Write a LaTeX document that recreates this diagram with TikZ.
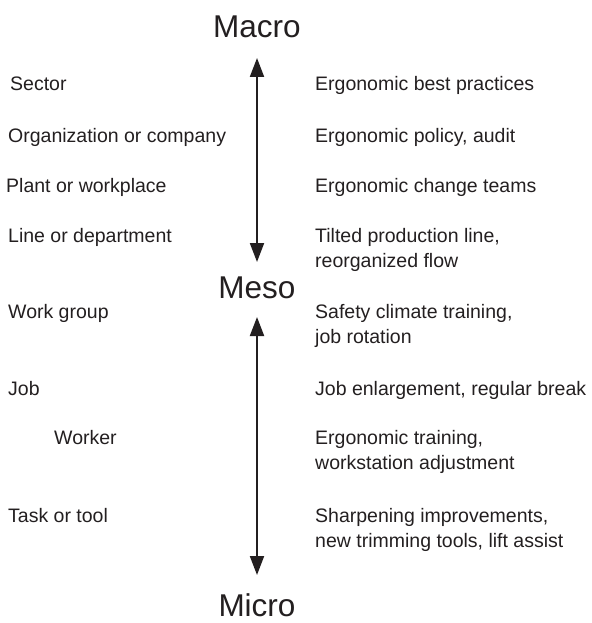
\documentclass[tikz,border=0pt]{standalone}
\usepackage{fontspec}
\setmainfont{Liberation Sans}
\usetikzlibrary{arrows.meta}
\definecolor{ink}{HTML}{231F20}
\begin{document}
\begin{tikzpicture}[x=1pt,y=-1pt,
  lbl/.style={anchor=base west,inner sep=0pt,text=ink,font=\fontsize{19.5}{24}\selectfont},
  big/.style={anchor=base,inner sep=0pt,text=ink,font=\fontsize{31.5}{38}\selectfont},
  scalearrow/.style={draw=ink,line width=2pt,{Triangle[length=19pt,width=14pt]}-{Triangle[length=19pt,width=14pt]}}]
\useasboundingbox (0,0) rectangle (591,623);
% scale labels
\node[big] (macro) at (257,38) {Macro};
\node[big] (meso) at (257,298) {Meso};
\node[big] (micro) at (257,616) {Micro};
% arrows
\coordinate (a1) at (257,58);
\coordinate (a2) at (257,262);
\coordinate (b1) at (257,317);
\coordinate (b2) at (257,575);
\draw[scalearrow] (a1) -- (a2);
\draw[scalearrow] (b1) -- (b2);
% left column
\node[lbl] (l1) at (10,91) {Sector};
\node[lbl] (l2) at (8,142) {Organization or company};
\node[lbl] (l3) at (6,192) {Plant or workplace};
\node[lbl] (l4) at (8,242) {Line or department};
\node[lbl] (l5) at (8,318) {Work group};
\node[lbl] (l6) at (8,395) {Job};
\node[lbl] (l7) at (54,444) {Worker};
\node[lbl] (l8) at (8,522) {Task or tool};
% right column
\node[lbl] (r1) at (315,91) {Ergonomic best practices};
\node[lbl] (r2) at (315,142) {Ergonomic policy, audit};
\node[lbl] (r3) at (315,192) {Ergonomic change teams};
\node[lbl] (r4a) at (315,242) {Tilted production line,};
\node[lbl] (r4b) at (315,267) {reorganized flow};
\node[lbl] (r5a) at (315,318) {Safety climate training,};
\node[lbl] (r5b) at (315,343) {job rotation};
\node[lbl] (r6) at (315,395) {Job enlargement, regular break};
\node[lbl] (r7a) at (315,444) {Ergonomic training,};
\node[lbl] (r7b) at (315,469) {workstation adjustment};
\node[lbl] (r8a) at (315,522) {Sharpening improvements,};
\node[lbl] (r8b) at (315,547) {new trimming tools, lift assist};
\end{tikzpicture}
\end{document}
